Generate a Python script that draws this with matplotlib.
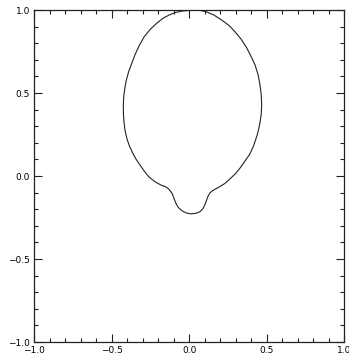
import numpy as np
import matplotlib
matplotlib.use("Agg")
import matplotlib.pyplot as plt
from matplotlib.ticker import MultipleLocator

# drop outline (counterclockwise from top)
xs = [0.03, -0.04, -0.09, -0.13, -0.17, -0.21, -0.25, -0.29, -0.32, -0.35,
      -0.37, -0.39, -0.405, -0.415, -0.422, -0.425, -0.424, -0.42, -0.413, -0.40,
      -0.385, -0.365, -0.345, -0.32, -0.29, -0.26, -0.22, -0.18, -0.15, -0.13,
      -0.11, -0.10, -0.085, -0.07, -0.045, -0.02, 0.01, 0.04, 0.07, 0.09,
      0.105, 0.12, 0.135, 0.16, 0.19, 0.23, 0.26, 0.30, 0.33, 0.36,
      0.39, 0.415, 0.44, 0.455, 0.465, 0.468, 0.465, 0.457, 0.445, 0.425,
      0.40, 0.37, 0.335, 0.30, 0.26, 0.21, 0.16, 0.11, 0.06, 0.03]
ys = [1.00, 0.995, 0.985, 0.97, 0.95, 0.92, 0.885, 0.84, 0.79, 0.73,
      0.68, 0.63, 0.58, 0.53, 0.48, 0.43, 0.37, 0.32, 0.27, 0.22,
      0.18, 0.14, 0.105, 0.07, 0.03, -0.005, -0.035, -0.055, -0.065, -0.08,
      -0.105, -0.13, -0.165, -0.19, -0.21, -0.222, -0.228, -0.225, -0.215, -0.195,
      -0.165, -0.125, -0.10, -0.083, -0.068, -0.045, -0.02, 0.015, 0.05, 0.09,
      0.13, 0.18, 0.25, 0.31, 0.37, 0.43, 0.49, 0.55, 0.61, 0.67,
      0.72, 0.775, 0.825, 0.865, 0.905, 0.94, 0.97, 0.99, 1.00, 1.00]

ticks = [-1.0, -0.5, 0.0, 0.5, 1.0]
tick_labels = ["\u22121.0", "\u22120.5", "0.0", "0.5", "1.0"]

fig = plt.figure(figsize=(3.49, 3.60), dpi=100)
ax = fig.add_axes([0.098, 0.05, 0.888, 0.922])

ax.plot(xs, ys, color="#222222", lw=0.8)

ax.set_xlim(-1, 1)
ax.set_ylim(-1, 1)
ax.set_xticks(ticks)
ax.set_yticks(ticks)
ax.set_xticklabels(tick_labels)
ax.set_yticklabels(tick_labels)
ax.xaxis.set_minor_locator(MultipleLocator(0.1))
ax.yaxis.set_minor_locator(MultipleLocator(0.1))
ax.tick_params(which="both", direction="in", top=True, right=True,
               labelsize=6.5, width=0.8, color="#222222", pad=3)
ax.tick_params(which="major", length=6)
ax.tick_params(which="minor", length=3)
for s in ax.spines.values():
    s.set_linewidth(0.9)
    s.set_color("#222222")

fig.savefig("out.png", dpi=100)
